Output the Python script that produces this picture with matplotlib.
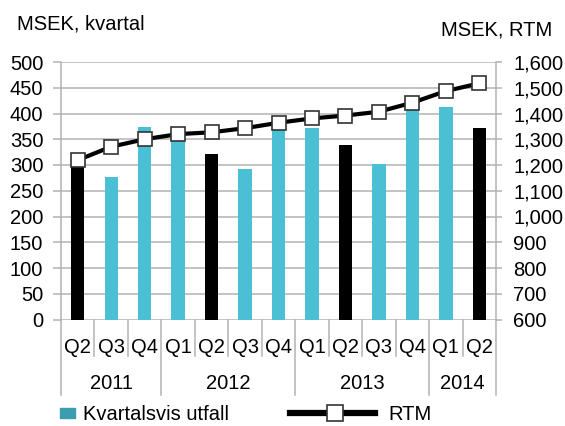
import numpy as np
import matplotlib
matplotlib.use("Agg")
import matplotlib.pyplot as plt
from matplotlib.patches import Rectangle
from matplotlib.lines import Line2D

plt.rcParams['font.family'] = ['Liberation Sans', 'DejaVu Sans']

# data
quarters = ['Q2', 'Q3', 'Q4', 'Q1', 'Q2', 'Q3', 'Q4', 'Q1', 'Q2', 'Q3', 'Q4', 'Q1', 'Q2']
years = ['2011', '2012', '2013', '2014']
year_spans = [3, 4, 4, 2]
kvartal = [305, 277, 374, 352, 321, 292, 370, 372, 339, 302, 414, 412, 371]
rtm = [1219, 1271, 1300, 1320, 1327, 1343, 1364, 1381, 1392, 1407, 1442, 1487, 1517]

cyan = '#4bbfd3'
grid = '#b3b3b3'
fs = 14.5

fig = plt.figure(figsize=(5.65, 4.26), dpi=100)
ax = fig.add_axes([61 / 565, 1 - 319.5 / 426, 435 / 565, 257.5 / 426])

x = np.arange(len(quarters))
colors = ['black' if q == 'Q2' else cyan for q in quarters]
ax.bar(x, kvartal, width=0.4, color=colors, zorder=2)

ax.set_xlim(-0.5, len(quarters) - 0.5)
ax.set_ylim(0, 500)
ax.set_yticks(np.arange(0, 501, 50))
ax.yaxis.grid(True, color=grid, lw=1.1, zorder=0)
ax.set_axisbelow(True)
ax.set_xticks([])
ax.tick_params(axis='y', length=5.8, width=1.1, color=grid, pad=7, labelsize=fs)
for s in ['top', 'right', 'bottom']:
    ax.spines[s].set_visible(False)
ax.spines['left'].set_color(grid)
ax.spines['left'].set_linewidth(1.1)

ax2 = ax.twinx()
ax2.plot(x, rtm, color='black', lw=3, marker='s', markersize=9.5,
         markerfacecolor='white', markeredgecolor='#333333', markeredgewidth=1.2,
         zorder=3, clip_on=False)
ax2.set_ylim(600, 1600)
ax2.set_yticks(np.arange(600, 1601, 100))
ax2.yaxis.set_major_formatter(matplotlib.ticker.StrMethodFormatter('{x:,.0f}'))
ax2.tick_params(axis='y', length=4.3, width=1.1, color=grid, pad=8, labelsize=fs)
for s in ['top', 'left', 'bottom']:
    ax2.spines[s].set_visible(False)
ax2.spines['right'].set_color(grid)
ax2.spines['right'].set_linewidth(1.1)

# category axis: quarter and year rows with separators
tr = ax.get_xaxis_transform()
bounds = np.cumsum([0] + year_spans) - 0.5
for b in np.arange(-0.5, len(quarters)):
    depth = -0.293 if b in bounds else -0.142
    ax.plot([b, b], [0, depth], color=grid, lw=1.1, transform=tr, clip_on=False)
for i, q in enumerate(quarters):
    ax.text(i, -0.107, q, transform=tr, ha='center', va='center', fontsize=fs)
for i, yr in enumerate(years):
    mid = (bounds[i] + bounds[i + 1]) / 2
    ax.text(mid, -0.247, yr, transform=tr, ha='center', va='center', fontsize=fs)

fig.text(17 / 565, 1 - 24 / 426, 'MSEK, kvartal', ha='left', va='center', fontsize=fs)
fig.text(552 / 565, 1 - 29.5 / 426, 'MSEK, RTM', ha='right', va='center', fontsize=fs)

# legend, drawn in figure pixels
W, H = 565, 426
fig.patches.append(Rectangle((60 / W, 1 - 418 / H), 15 / W, 10 / H,
                             transform=fig.transFigure, color='#3d9db0'))
fig.text(83 / W, 1 - 414 / H, 'Kvartalsvis utfall', ha='left', va='center', fontsize=fs)
fig.lines.append(Line2D([290 / W, 375 / W], [1 - 413 / H, 1 - 413 / H],
                        transform=fig.transFigure, color='black', lw=4.5))
fig.lines.append(Line2D([335 / W], [1 - 413 / H], transform=fig.transFigure,
                        marker='s', markersize=11, markerfacecolor='white',
                        markeredgecolor='#333333', markeredgewidth=1.2))
fig.text(388 / W, 1 - 414 / H, 'RTM', ha='left', va='center', fontsize=fs)

fig.savefig('out.png', dpi=100)
